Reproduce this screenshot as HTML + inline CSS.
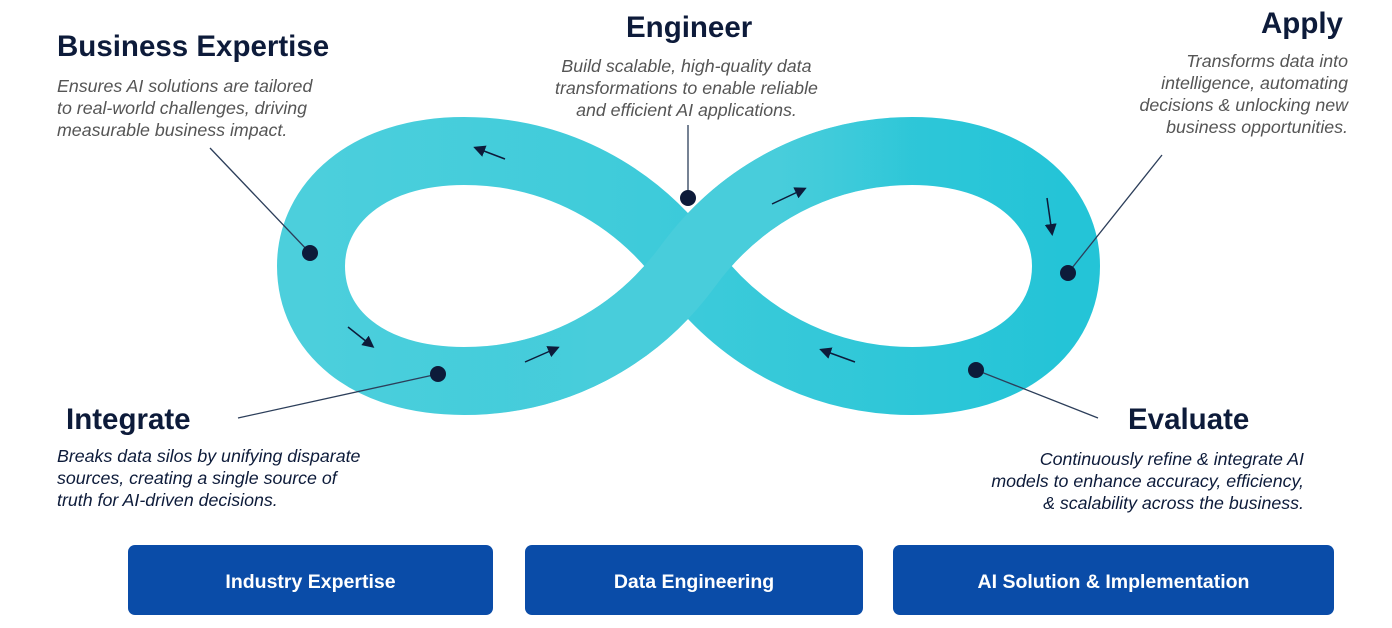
<!DOCTYPE html>
<html><head><style>
body{margin:0;width:1392px;height:628px;background:#fff;position:relative;font-family:"Liberation Sans",sans-serif;overflow:hidden}
.t{position:absolute;font-weight:bold;color:#0d1b3a;font-size:29.5px;white-space:nowrap}
.d{position:absolute;font-style:italic;font-size:17.8px;line-height:22px;color:#555;white-space:nowrap}
.n{color:#0d1b3a}
.b{position:absolute;top:545px;height:70px;background:#0a4ca8;border-radius:7px;color:#fff;font-weight:bold;font-size:19.5px;display:flex;align-items:center;justify-content:center;padding-top:4px;box-sizing:border-box}
</style></head><body>
<svg width="1392" height="628" style="position:absolute;left:0;top:0">
<defs><marker id="a" markerWidth="8" markerHeight="8" refX="6" refY="4" orient="auto"><path d="M0,0L8,4L0,8z" fill="#0d1b3a"/></marker>
<linearGradient id="g" x1="0" x2="1" y1="0" y2="0"><stop offset="0" stop-color="#4ccfdc"/><stop offset="0.45" stop-color="#3ecbda"/><stop offset="1" stop-color="#24c4d7"/></linearGradient>
<linearGradient id="h" gradientUnits="userSpaceOnUse" x1="464" y1="0" x2="912" y2="0"><stop offset="0" stop-color="#48cddb" stop-opacity="0"/><stop offset="0.3" stop-color="#48cddb" stop-opacity="1"/><stop offset="0.7" stop-color="#48cddb" stop-opacity="1"/><stop offset="1" stop-color="#48cddb" stop-opacity="0"/></linearGradient></defs>
<path d="M688,266 C740,195 820,151 912,151 C1010,151 1066,205 1066,266 C1066,330 1010,381 912,381 C820,381 740,337 688,266 C636,195 556,151 464,151 C366,151 311,205 311,266 C311,330 366,381 464,381 C556,381 636,337 688,266Z" fill="none" stroke="url(#g)" stroke-width="68"/>
<path d="M464,381 C556,381 636,337 688,266 C740,195 820,151 912,151" fill="none" stroke="url(#h)" stroke-width="68"/>
<g stroke="#2c3e5a" stroke-width="1.3">
<line x1="210" y1="148" x2="310" y2="253"/><line x1="688" y1="125" x2="688" y2="198"/>
<line x1="1162" y1="155" x2="1068" y2="273"/><line x1="238" y1="418" x2="438" y2="374"/>
<line x1="976" y1="370" x2="1098" y2="418"/></g>
<g fill="#0d1b3a"><circle cx="310" cy="253" r="8"/><circle cx="688" cy="198" r="8"/><circle cx="1068" cy="273" r="8"/><circle cx="438" cy="374" r="8"/><circle cx="976" cy="370" r="8"/></g>
<g stroke="#0d1b3a" stroke-width="1.5" marker-end="url(#a)">
<line x1="505" y1="159" x2="476" y2="148"/><line x1="348" y1="327" x2="372" y2="346"/>
<line x1="525" y1="362" x2="557" y2="348"/><line x1="772" y1="204" x2="804" y2="189"/>
<line x1="1047" y1="198" x2="1052" y2="233"/><line x1="855" y1="362" x2="822" y2="350"/></g>
</svg>
<div class="t" style="left:57px;top:30px">Business Expertise</div>
<div class="d" style="left:57px;top:75px">Ensures AI solutions are tailored<br>to real-world challenges, driving<br>measurable business impact.</div>
<div class="t" style="left:626px;top:11px">Engineer</div>
<div class="d" style="left:555px;top:55px;text-align:center">Build scalable, high-quality data<br>transformations to enable reliable<br>and efficient AI applications.</div>
<div class="t" style="left:1261px;top:7px">Apply</div>
<div class="d" style="right:44px;top:50px;text-align:right">Transforms data into<br>intelligence, automating<br>decisions &amp; unlocking new<br>business opportunities.</div>
<div class="t" style="left:66px;top:403px">Integrate</div>
<div class="d n" style="left:57px;top:445px">Breaks data silos by unifying disparate<br>sources, creating a single source of<br>truth for AI-driven decisions.</div>
<div class="t" style="left:1128px;top:403px">Evaluate</div>
<div class="d n" style="right:88px;top:448px;text-align:right">Continuously refine &amp; integrate AI<br>models to enhance accuracy, efficiency,<br>&amp; scalability across the business.</div>
<div class="b" style="left:128px;width:365px">Industry Expertise</div>
<div class="b" style="left:525px;width:338px">Data Engineering</div>
<div class="b" style="left:893px;width:441px">AI Solution &amp; Implementation</div>
</body></html>
